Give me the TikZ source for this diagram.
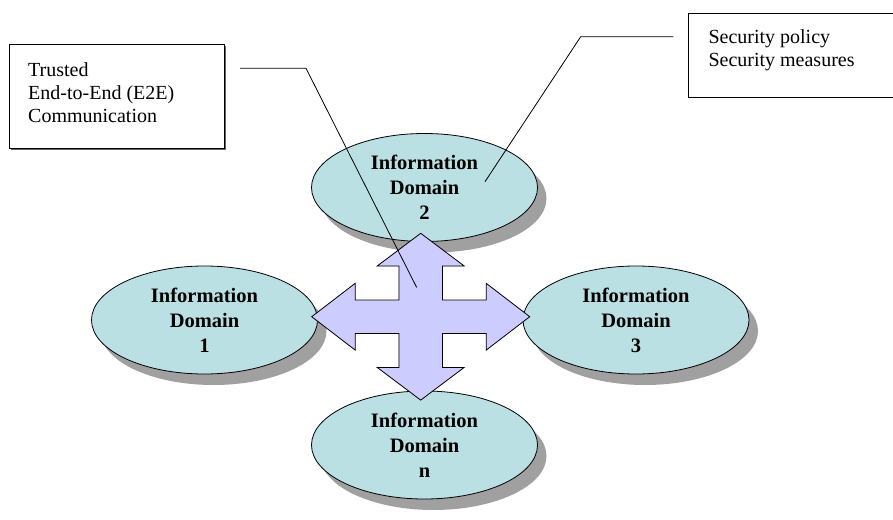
\documentclass[tikz,border=0pt]{standalone}
\usepackage{fontspec}
\setmainfont{Liberation Serif}
\usetikzlibrary{shadows,shapes.geometric}
\definecolor{domfill}{RGB}{187,224,227}
\definecolor{crossfill}{RGB}{204,204,255}
\definecolor{shadowgray}{RGB}{160,160,160}
\begin{document}
\begin{tikzpicture}[x=1pt,y=-1pt,
  infodom/.style={ellipse, draw=black, line width=0.8pt, fill=domfill,
    minimum width=226pt, minimum height=108pt, inner sep=0pt, align=center,
    font=\fontsize{20.5}{25}\selectfont\bfseries,
    drop shadow={shadow xshift=9pt, shadow yshift=-11pt, fill=shadowgray, opacity=1}},
  callbox/.style={draw=black, line width=0.8pt, fill=white, anchor=north west, inner sep=0pt,
    drop shadow={shadow xshift=1.2pt, shadow yshift=-1.2pt, fill=black!60, opacity=1}},
  calltext/.style={anchor=north west, align=left, inner sep=0pt,
    font=\fontsize{20}{23}\selectfont},
  leader/.style={draw=black, line width=0.8pt}
]
\useasboundingbox (0,0) rectangle (893,519);

% domains
\node[infodom] (d2) at (424.5,187.5) {Information\\Domain\\2};
\node[infodom] (d1) at (204.5,320) {Information\\Domain\\1};
\node[infodom] (d3) at (636,320) {Information\\Domain\\3};
\node[infodom] (dn) at (424.5,445) {Information\\Domain\\n};

% four-way arrow
\coordinate (c) at (420.7,316.7);
\fill[black!45, shift={(1.2,1.2)}, shift={(c)}]
  (0,-83.4) -- (43.5,-50.7) -- (21.8,-50.7) -- (21.8,-16.7) -- (65.5,-16.7) -- (65.5,-33.4)
  -- (109,0) -- (65.5,33.4) -- (65.5,16.7) -- (21.8,16.7) -- (21.8,50.7) -- (43.5,50.7)
  -- (0,83.4) -- (-43.5,50.7) -- (-21.8,50.7) -- (-21.8,16.7) -- (-65.5,16.7) -- (-65.5,33.4)
  -- (-109,0) -- (-65.5,-33.4) -- (-65.5,-16.7) -- (-21.8,-16.7) -- (-21.8,-50.7) -- (-43.5,-50.7) -- cycle;
\draw[fill=crossfill, line width=0.8pt, line join=miter, shift={(c)}]
  (0,-83.4) -- (43.5,-50.7) -- (21.8,-50.7) -- (21.8,-16.7) -- (65.5,-16.7) -- (65.5,-33.4)
  -- (109,0) -- (65.5,33.4) -- (65.5,16.7) -- (21.8,16.7) -- (21.8,50.7) -- (43.5,50.7)
  -- (0,83.4) -- (-43.5,50.7) -- (-21.8,50.7) -- (-21.8,16.7) -- (-65.5,16.7) -- (-65.5,33.4)
  -- (-109,0) -- (-65.5,-33.4) -- (-65.5,-16.7) -- (-21.8,-16.7) -- (-21.8,-50.7) -- (-43.5,-50.7) -- cycle;

% callout boxes
\node[callbox, minimum width=214.7pt, minimum height=104.3pt] (boxA) at (9.3,44) {};
\node[calltext] (txtA) at (28,62.3) {Trusted\\End-to-End (E2E)\\Communication};
\node[callbox, minimum width=210pt, minimum height=83.4pt] (boxB) at (688.3,13.3) {};
\node[calltext] (txtB) at (708.3,29.6) {Security policy\\Security measures};

% leader lines
\coordinate (lA0) at (240,68.3);
\coordinate (lA1) at (306,68.3);
\coordinate (lA2) at (416.7,287.5);
\coordinate (lB0) at (673.3,36.7);
\coordinate (lB1) at (580.7,36.7);
\coordinate (lB2) at (485,181.7);
\draw[leader] (lA0) -- (lA1) -- (lA2);
\draw[leader] (lB0) -- (lB1) -- (lB2);
\end{tikzpicture}
\end{document}
